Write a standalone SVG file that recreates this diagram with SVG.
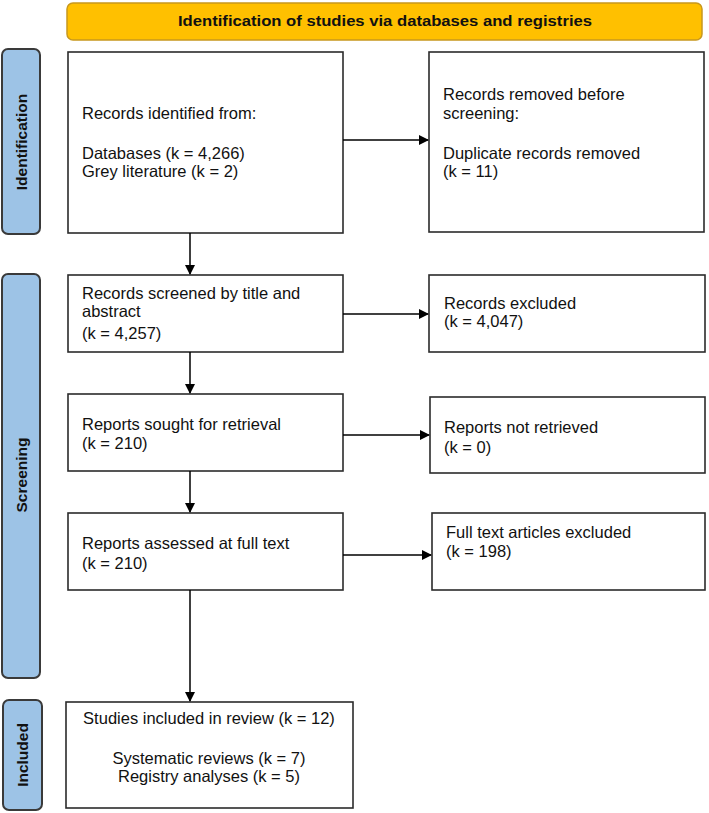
<svg xmlns="http://www.w3.org/2000/svg" width="709" height="813" viewBox="0 0 709 813">
<defs>
<style>
.box{fill:#fff;stroke:#2b2b2b;stroke-width:1.6}
.tab{fill:#9dc3e6;stroke:#3a3a3a;stroke-width:2}
.hdr{fill:#ffc000;stroke:#c8981e;stroke-width:1.5}
.t{font-family:"Liberation Sans",Arial,sans-serif;font-size:16.5px;fill:#111}
.tb{font-family:"Liberation Sans",Arial,sans-serif;font-size:15.5px;font-weight:bold;fill:#111}
.c{stroke:#000;stroke-width:1.5;fill:none;marker-end:url(#ah)}
</style>
<marker id="ah" markerWidth="10" markerHeight="10" refX="9" refY="5" orient="auto" markerUnits="userSpaceOnUse">
<path d="M0,0 L10,5 L0,10 Z" fill="#000"/>
</marker>
</defs>
<g id="header">
<rect class="hdr" x="67" y="3" width="635" height="37" rx="6"/>
<text class="tb" x="178" y="26" font-size="17.5" textLength="414" lengthAdjust="spacingAndGlyphs">Identification of studies via databases and registries</text>
</g>
<g id="tab-identification">
<rect class="tab" x="2" y="49" width="38" height="185" rx="6"/>
<text class="tb" transform="translate(27,142) rotate(-90)" text-anchor="middle">Identification</text>
</g>
<g id="tab-screening">
<rect class="tab" x="2" y="274" width="38" height="404" rx="6"/>
<text class="tb" transform="translate(27,475) rotate(-90)" text-anchor="middle">Screening</text>
</g>
<g id="tab-included">
<rect class="tab" x="3" y="700" width="39" height="110" rx="6"/>
<text class="tb" transform="translate(28,755) rotate(-90)" text-anchor="middle">Included</text>
</g>
<g id="records-identified">
<rect class="box" x="68" y="52" width="275" height="181"/>
<text class="t" x="82" y="119">Records identified from:</text>
<text class="t" x="82" y="159">Databases (k = 4,266)</text>
<text class="t" x="82" y="177">Grey literature (k = 2)</text>
</g>
<g id="records-removed">
<rect class="box" x="429" y="52" width="275" height="180"/>
<text class="t" x="443" y="100">Records removed before</text>
<text class="t" x="443" y="119">screening:</text>
<text class="t" x="443" y="159">Duplicate records removed</text>
<text class="t" x="443" y="177">(k = 11)</text>
</g>
<g id="records-screened">
<rect class="box" x="68" y="275" width="275" height="77"/>
<text class="t" x="82" y="299">Records screened by title and</text>
<text class="t" x="82" y="317">abstract</text>
<text class="t" x="82" y="339">(k = 4,257)</text>
</g>
<g id="records-excluded">
<rect class="box" x="429" y="275" width="276" height="77"/>
<text class="t" x="444" y="309">Records excluded</text>
<text class="t" x="444" y="327">(k = 4,047)</text>
</g>
<g id="reports-sought">
<rect class="box" x="68" y="394" width="275" height="77"/>
<text class="t" x="82" y="430">Reports sought for retrieval</text>
<text class="t" x="82" y="449">(k = 210)</text>
</g>
<g id="reports-not-retrieved">
<rect class="box" x="430" y="397" width="275" height="76"/>
<text class="t" x="444" y="433">Reports not retrieved</text>
<text class="t" x="444" y="453">(k = 0)</text>
</g>
<g id="reports-assessed">
<rect class="box" x="68" y="513" width="275" height="77"/>
<text class="t" x="82" y="549">Reports assessed at full text</text>
<text class="t" x="82" y="569">(k = 210)</text>
</g>
<g id="fulltext-excluded">
<rect class="box" x="432" y="513" width="273" height="77"/>
<text class="t" x="446" y="538">Full text articles excluded</text>
<text class="t" x="446" y="557">(k = 198)</text>
</g>
<g id="studies-included">
<rect class="box" x="66" y="702" width="287" height="106"/>
<text class="t" x="209" y="724" text-anchor="middle">Studies included in review (k = 12)</text>
<text class="t" x="209" y="764" text-anchor="middle">Systematic reviews (k = 7)</text>
<text class="t" x="209" y="782" text-anchor="middle">Registry analyses (k = 5)</text>
</g>
<g id="connectors">
<line class="c" x1="343" y1="140" x2="428" y2="140"/>
<line class="c" x1="190" y1="233" x2="190" y2="274"/>
<line class="c" x1="343" y1="314" x2="428" y2="314"/>
<line class="c" x1="190" y1="352" x2="190" y2="393"/>
<line class="c" x1="343" y1="435" x2="429" y2="435"/>
<line class="c" x1="190" y1="471" x2="190" y2="512"/>
<line class="c" x1="343" y1="555" x2="431" y2="555"/>
<line class="c" x1="190" y1="590" x2="190" y2="701"/>
</g>
</svg>
